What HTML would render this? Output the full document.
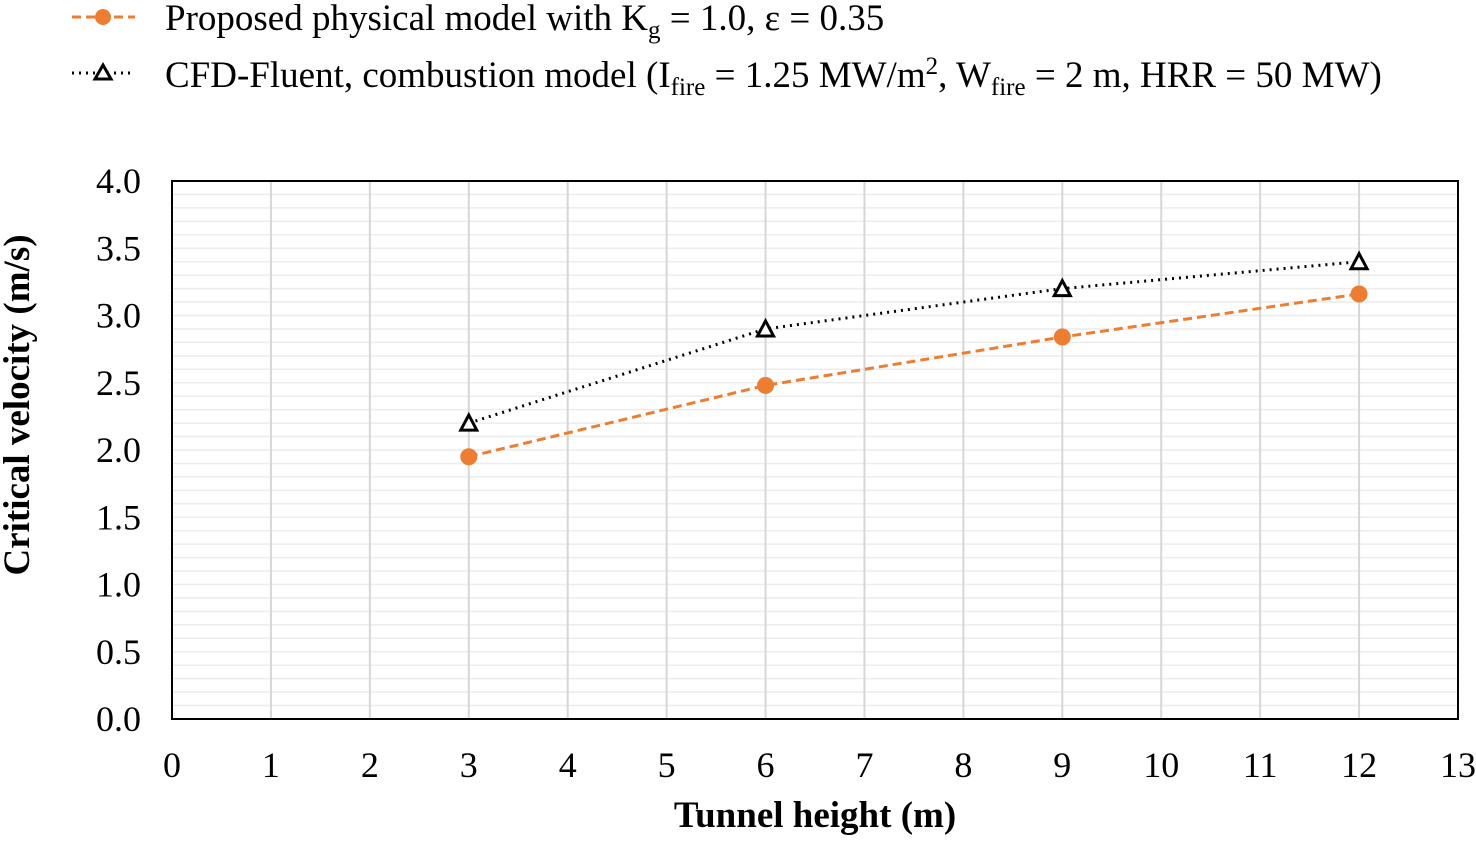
<!DOCTYPE html>
<html><head><meta charset="utf-8"><style>
body{margin:0;background:#fff;}
svg text{font-family:"Liberation Serif",serif;fill:#000;}
</style></head><body>
<svg id="c" width="1476" height="836" xmlns="http://www.w3.org/2000/svg">
<g>
 <g>
  <line x1="72" y1="17" x2="135" y2="17" stroke="#ED7D31" stroke-width="3" stroke-dasharray="9,5"/>
  <circle cx="103" cy="17" r="8" fill="#ED7D31"/>
  <text x="165" y="30" font-size="37">Proposed physical model with K<tspan font-size="25" dy="8">g</tspan><tspan dy="-8"> = 1.0, ε = 0.35</tspan></text>
 </g>
 <g>
  <line x1="72" y1="73" x2="135" y2="73" stroke="#000" stroke-width="3" stroke-dasharray="2,5"/>
  <path d="M103,65 L111,79 L95,79 Z" fill="#fff" stroke="#000" stroke-width="3"/>
  <text x="165" y="87" font-size="37">CFD-Fluent, combustion model (I<tspan font-size="25" dy="8">fire</tspan><tspan dy="-8"> = 1.25 MW/m</tspan><tspan font-size="25" dy="-13">2</tspan><tspan dy="13">, W</tspan><tspan font-size="25" dy="8">fire</tspan><tspan dy="-8"> = 2 m, HRR = 50 MW)</tspan></text>
 </g>
</g>
<g id="grid"></g>
<rect x="172" y="181" width="1286" height="538" fill="none" stroke="#000" stroke-width="2"/>
<g id="ticks"></g>
<g id="series"></g>
<text x="815" y="827" font-size="37" font-weight="bold" text-anchor="middle">Tunnel height (m)</text>
<text transform="translate(29,405) rotate(-90)" font-size="37" font-weight="bold" text-anchor="middle">Critical velocity (m/s)</text>
</svg>
<script>
const xCats = [3, 6, 9, 12];
const proposed = [1.95, 2.48, 2.84, 3.16];
const cfd = [2.2, 2.9, 3.2, 3.4];
const xTicks = [0,1,2,3,4,5,6,7,8,9,10,11,12,13];
const yTicks = ["0.0","0.5","1.0","1.5","2.0","2.5","3.0","3.5","4.0"];
const NS="http://www.w3.org/2000/svg";
const X0=172,X1=1458,Y0=719,Y1=181;
const sx=v=>X0+(v-0)/13*(X1-X0);
const sy=v=>Y0-(v-0)/4*(Y0-Y1);
function mk(tag,attrs,parent){const e=document.createElementNS(NS,tag);for(const k in attrs)e.setAttribute(k,attrs[k]);parent.appendChild(e);return e;}
const grid=document.getElementById('grid'),ticks=document.getElementById('ticks'),series=document.getElementById('series');
for(let i=1;i<40;i++){const l=mk('line',{x1:X0,x2:X1,y1:sy(i/10),y2:sy(i/10),stroke:'#ececec','stroke-width':1.5},grid);

}
xTicks.forEach(v=>{
 if(v>0&&v<13){const l=mk('line',{x1:sx(v),x2:sx(v),y1:Y1,y2:Y0,stroke:'#d6d6d6','stroke-width':2},grid);
 
 }
 const t=mk('text',{x:sx(v),y:777,'font-size':36,'text-anchor':'middle'},ticks);t.textContent=v;
 
 
});
yTicks.forEach(s=>{const t=mk('text',{x:141,y:sy(+s)+12,'font-size':36,'text-anchor':'end'},ticks);t.textContent=s;
 
 });
const pathOf=a=>a.map((v,i)=>(i?'L':'M')+sx(xCats[i])+','+sy(v)).join(' ');
const l1=mk('path',{d:pathOf(cfd),fill:'none',stroke:'#000','stroke-width':3,'stroke-dasharray':'2,5'},series);


const l2=mk('path',{d:pathOf(proposed),fill:'none',stroke:'#ED7D31','stroke-width':3,'stroke-dasharray':'9,5'},series);


proposed.forEach((v,i)=>{const c=mk('circle',{cx:sx(xCats[i]),cy:sy(v),r:8.5,fill:'#ED7D31'},series);
 
 });
cfd.forEach((v,i)=>{const x=sx(xCats[i]),y=sy(v);const p=mk('path',{d:`M${x},${y-8} L${x+8},${y+7} L${x-8},${y+7} Z`,fill:'#fff',stroke:'#000','stroke-width':3},series);
 
 });
</script>
</body></html>
